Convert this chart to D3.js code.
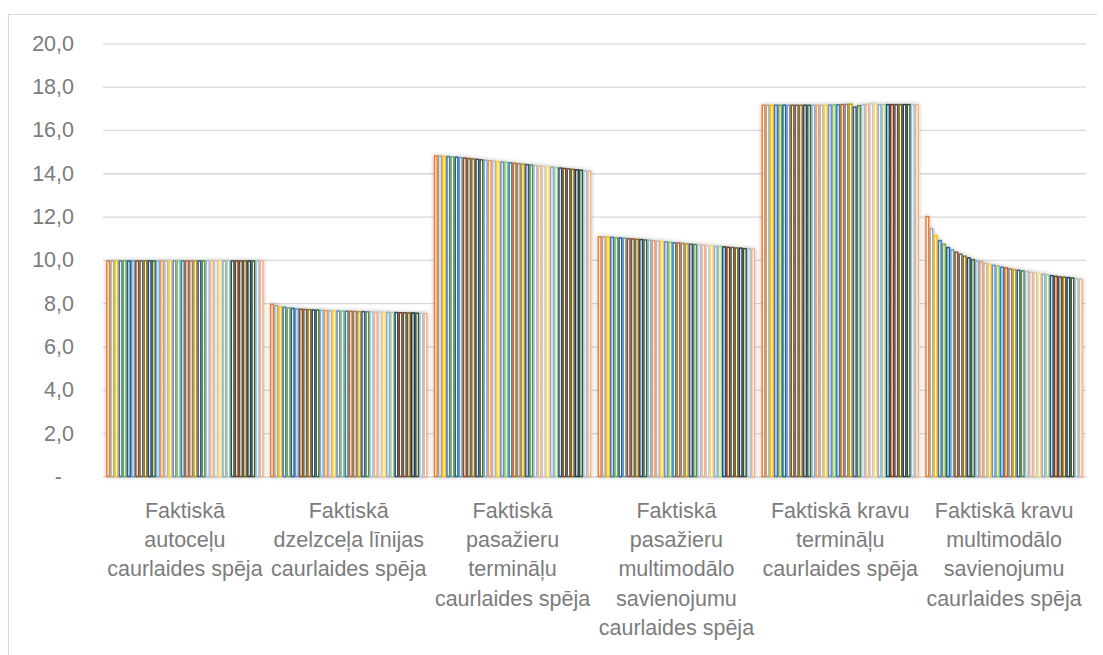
<!DOCTYPE html>
<html lang="lv">
<head>
<meta charset="utf-8">
<script src="https://cdn.jsdelivr.net/npm/d3@7"></script>
<style>
  html, body { margin: 0; padding: 0; background: #ffffff; }
  svg { display: block; font-family: "Liberation Sans", Arial, sans-serif; }
</style>
</head>
<body>
<svg id="chart" width="1103" height="655"></svg>
<script>
// Categories (capacity types)
const categories = [
  "Faktiskā autoceļu caurlaides spēja",
  "Faktiskā dzelzceļa līnijas caurlaides spēja",
  "Faktiskā pasažieru termināļu caurlaides spēja",
  "Faktiskā pasažieru multimodālo savienojumu caurlaides spēja",
  "Faktiskā kravu termināļu caurlaides spēja",
  "Faktiskā kravu multimodālo savienojumu caurlaides spēja"
];

// Values of the 38 series, one list per category
const autoceluValues = [
  9.95, 9.95, 9.95, 9.95, 9.95, 9.95, 9.95, 9.95, 9.95, 9.95,
  9.95, 9.95, 9.95, 9.95, 9.95, 9.95, 9.95, 9.95, 9.95, 9.95,
  9.95, 9.95, 9.95, 9.95, 9.95, 9.95, 9.95, 9.95, 9.95, 9.95,
  9.95, 9.95, 9.95, 9.95, 9.95, 9.95, 9.95, 9.95
];
const dzelzcelaValues = [
  7.95, 7.89, 7.84, 7.81, 7.78, 7.76, 7.74, 7.72, 7.71, 7.70,
  7.69, 7.68, 7.67, 7.66, 7.65, 7.64, 7.64, 7.63, 7.63, 7.62,
  7.62, 7.61, 7.61, 7.60, 7.60, 7.59, 7.59, 7.58, 7.58, 7.57,
  7.57, 7.56, 7.56, 7.55, 7.55, 7.54, 7.54, 7.53
];
const pasazieruTerminaluValues = [
  14.80, 14.79, 14.78, 14.77, 14.75, 14.74, 14.72, 14.70, 14.68, 14.66,
  14.64, 14.62, 14.60, 14.58, 14.56, 14.54, 14.52, 14.50, 14.48, 14.46,
  14.44, 14.42, 14.40, 14.38, 14.36, 14.34, 14.32, 14.30, 14.28, 14.26,
  14.24, 14.22, 14.20, 14.18, 14.16, 14.14, 14.12, 14.09
];
const pasazieruMultimodaloValues = [
  11.07, 11.06, 11.05, 11.04, 11.02, 11.01, 11.00, 10.98, 10.97, 10.95,
  10.94, 10.92, 10.91, 10.89, 10.87, 10.85, 10.83, 10.81, 10.79, 10.78,
  10.76, 10.74, 10.72, 10.71, 10.69, 10.68, 10.66, 10.65, 10.63, 10.62,
  10.60, 10.58, 10.57, 10.55, 10.54, 10.52, 10.51, 10.49
];
const kravuTerminaluValues = [
  17.14, 17.14, 17.14, 17.14, 17.14, 17.14, 17.14, 17.14, 17.14, 17.14,
  17.14, 17.14, 17.14, 17.14, 17.14, 17.14, 17.15, 17.15, 17.16, 17.17,
  17.18, 17.19, 17.05, 17.12, 17.16, 17.18, 17.21, 17.19, 17.17, 17.17,
  17.17, 17.17, 17.17, 17.17, 17.17, 17.17, 17.17, 17.17
];
const kravuMultimodaloValues = [
  12.00, 11.43, 11.12, 10.89, 10.72, 10.57, 10.46, 10.35, 10.26, 10.17,
  10.09, 10.01, 9.95, 9.90, 9.84, 9.80, 9.75, 9.71, 9.66, 9.63,
  9.58, 9.55, 9.52, 9.49, 9.46, 9.43, 9.40, 9.37, 9.34, 9.31,
  9.27, 9.24, 9.21, 9.20, 9.18, 9.16, 9.13, 9.10
];
const categoryValues = [
  autoceluValues, dzelzcelaValues, pasazieruTerminaluValues,
  pasazieruMultimodaloValues, kravuTerminaluValues, kravuMultimodaloValues
];

// Series outline colours (office-style cycle)
const seriesColors = [
  "#ED7D31", "#A5A5A5", "#FFC000", "#4472C4", "#70AD47", "#255E91",
  "#5B9BD5", "#9E480E", "#636363", "#997300", "#264478", "#43682B",
  "#7CAFDD", "#F1975A", "#B7B7B7", "#FFCD33", "#698ED0", "#8CC168",
  "#327DC2", "#D26012", "#848484", "#CC9A00", "#335AA1", "#5A8A39",
  "#9DC3E6", "#F4B183", "#C9C9C9", "#FFD966", "#8FAADC", "#A9D18E",
  "#1F4E79", "#843C0C", "#525252", "#7F6000", "#203864", "#385723",
  "#9DC3E6", "#F4B183"
];

// Y axis ticks
const yTickValues = [0, 2, 4, 6, 8, 10, 12, 14, 16, 18, 20];
const yTickLabels = ["-", "2,0", "4,0", "6,0", "8,0", "10,0", "12,0", "14,0", "16,0", "18,0", "20,0"];

const seriesIds = d3.range(seriesColors.length);

const svg = d3.select("#chart");
const plot = { left: 103, right: 1086, top: 43.3, bottom: 476.5 };
const textColor = "#7c7c7c";
const gridColor = "#d9d9d9";
const fontSize = 21.5;

// chart area border (top and left edges)
svg.append("path")
  .attr("d", "M8.5,655 V14.5 H1097")
  .attr("fill", "none")
  .attr("stroke", gridColor)
  .attr("stroke-width", 1.2);

const y = d3.scaleLinear().domain([0, 20]).range([plot.bottom, plot.top]);
const x0 = d3.scaleBand().domain(categories).range([plot.left, plot.right]).padding(0);
const x1 = d3.scaleBand().domain(seriesIds).range([0, x0.bandwidth()])
  .paddingInner(0).paddingOuter(0.75);

// soft glow around the bar clusters
const defs = svg.append("defs");
const glow = defs.append("filter").attr("id", "barGlow")
  .attr("x", "-10%").attr("y", "-10%").attr("width", "120%").attr("height", "120%");
glow.append("feGaussianBlur").attr("in", "SourceAlpha").attr("stdDeviation", 2).attr("result", "blur");
glow.append("feComponentTransfer").attr("in", "blur").attr("result", "shade")
  .append("feFuncA").attr("type", "linear").attr("slope", 0.28);
const merge = glow.append("feMerge");
merge.append("feMergeNode").attr("in", "shade");
merge.append("feMergeNode").attr("in", "SourceGraphic");

// horizontal gridlines
const grid = svg.append("g")
  .attr("transform", `translate(${plot.left},0)`)
  .call(d3.axisLeft(y).tickValues(yTickValues).tickSize(-(plot.right - plot.left)).tickFormat(""));
grid.select(".domain").remove();
grid.selectAll(".tick line").attr("stroke", gridColor).attr("stroke-width", 1.3);

// y axis labels
const yAxis = svg.append("g")
  .attr("transform", `translate(${plot.left},0)`)
  .call(d3.axisLeft(y).tickValues(yTickValues).tickSize(0).tickPadding(29)
    .tickFormat((d, i) => yTickLabels[i]));
yAxis.select(".domain").remove();
yAxis.selectAll(".tick text")
  .attr("fill", textColor)
  .style("font-size", fontSize + "px")
  .style("font-family", "'Liberation Sans', Arial, sans-serif")
  .attr("dx", d => d === 0 ? -12 : 0);

// bars: one cluster per category, white fill with coloured outline
const strokeW = 1.5;
const clusters = svg.append("g").selectAll("g.cluster")
  .data(categories)
  .join("g")
  .attr("class", "cluster")
  .attr("transform", d => `translate(${x0(d)},0)`)
  .attr("filter", "url(#barGlow)");

clusters.selectAll("rect")
  .data((d, ci) => categoryValues[ci].map((v, si) => ({ v, si })))
  .join("rect")
  .attr("x", d => x1(d.si) + strokeW / 2)
  .attr("width", x1.bandwidth() - strokeW)
  .attr("y", d => y(d.v))
  .attr("height", d => y(0) - y(d.v))
  .attr("fill", "#ffffff")
  .attr("stroke", d => seriesColors[d.si])
  .attr("stroke-width", strokeW);

// category axis with wrapped labels
const xAxis = svg.append("g")
  .attr("transform", `translate(0,${plot.bottom})`)
  .call(d3.axisBottom(x0).tickSize(0).tickPadding(0));
xAxis.select(".domain").remove();
xAxis.selectAll(".tick text")
  .attr("fill", textColor)
  .style("font-size", fontSize + "px")
  .style("font-family", "'Liberation Sans', Arial, sans-serif")
  .each(function (d) {
    const text = d3.select(this);
    const words = d.split(" ");
    const maxW = x0.bandwidth() - 2;
    text.text(null).attr("y", 0).attr("dy", null);
    let lines = [];
    let line = [];
    const probe = text.append("tspan");
    for (const w of words) {
      line.push(w);
      probe.text(line.join(" "));
      if (probe.node().getComputedTextLength() > maxW && line.length > 1) {
        line.pop();
        lines.push(line.join(" "));
        line = [w];
      }
    }
    lines.push(line.join(" "));
    probe.remove();
    lines.forEach((ln, i) => {
      text.append("tspan")
        .attr("x", 0)
        .attr("y", 41.5 + i * 29.2)
        .text(ln);
    });
  });
</script>
</body>
</html>
